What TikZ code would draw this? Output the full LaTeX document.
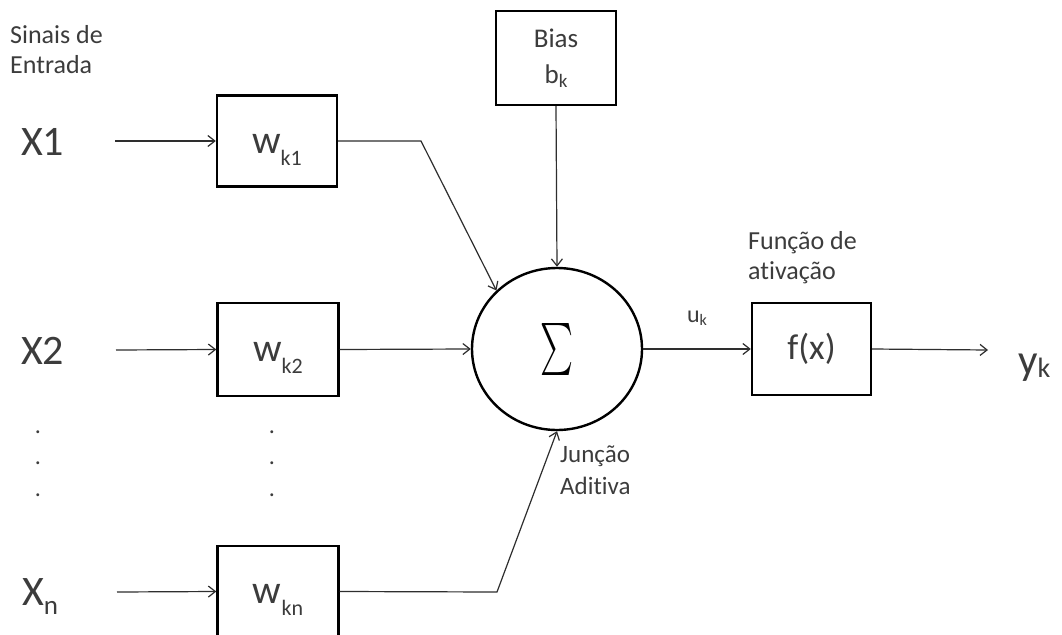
\documentclass[tikz,border=0pt]{standalone}
\usepackage{fontspec}
\setmainfont{Carlito}[Ligatures=NoCommon]
\usepackage{graphicx}
\usetikzlibrary{arrows.meta,shapes.geometric}
\definecolor{txt}{HTML}{3C3C3C}
\definecolor{lc}{HTML}{2E2E2E}
\newcommand{\fs}[1]{\fontsize{#1}{#1}\selectfont}
\newcommand{\lowsub}[3]{\raisebox{#1}{\fontsize{#2}{#2}\selectfont #3}}
\begin{document}
\begin{tikzpicture}[x=1pt,y=-1pt,
  box/.style={draw=black, line width=2.4pt, minimum width=120pt, minimum height=91pt, inner sep=0pt, text=txt},
  wt/.style={font=\fs{40}, text height=32pt, text depth=8pt},
  lbl/.style={text=txt, inner sep=0pt, align=left, font={\fontsize{26}{30}\selectfont}},
  xin/.style={text=txt, inner sep=0pt, font=\fs{42}, anchor=base west},
  dotn/.style={text=txt, inner sep=0pt, font=\fs{24}},
  conn/.style={draw=lc, line width=1.2pt, -{Straight Barb[length=7pt,width=11pt]}},
  plain/.style={draw=lc, line width=1.2pt}]
\fill[white] (0,0) rectangle (1062,634);
\useasboundingbox (0,0) rectangle (1062,634);

% labels
\node[lbl, anchor=north west] (sinais) at (10,25) {Sinais de\\Entrada};
\node[lbl, anchor=north west] (funcao) at (748,231) {Função de\\ativação};
\node[lbl, anchor=north west, font={\fontsize{25}{32}\selectfont}] (juncao) at (560,446) {Junção\\Aditiva};

% inputs
\node[xin] (x1) at (21,155) {X1};
\node[xin] (x2) at (21,364) {X2};
\node[xin] (xn) at (22,605) {X\lowsub{-9pt}{27}{n}};

% dots
\node[dotn] (d1) at (38,432) {.};
\node[dotn] (d2) at (38,463) {.};
\node[dotn] (d3) at (38,495) {.};
\node[dotn] (d4) at (272,432) {.};
\node[dotn] (d5) at (272,463) {.};
\node[dotn] (d6) at (272,495) {.};

% weights
\node[box, wt] (w1) at (277,141) {w\lowsub{-12pt}{22}{k1}};
\node[box, wt, minimum width=121pt, minimum height=93pt] (w2) at (278,349.5) {w\lowsub{-12pt}{22}{k2}};
\node[box, wt, minimum width=121pt] (wn) at (278,591.5) {w\lowsub{-12pt}{22}{kn}};

% bias
\node[box, minimum height=94pt, align=center, font={\fontsize{27}{36}\selectfont}] (bias) at (556,58) {Bias\\b\lowsub{-4pt}{19}{k}};

% summation
\node[draw=black, ellipse, line width=2.4pt, minimum width=170pt, minimum height=162pt, inner sep=0pt] (sum) at (557,349) {\resizebox*{33pt}{52pt}{$\sum$}};

% activation
\node[box, minimum width=119pt, minimum height=92pt, font=\fs{36}] (f) at (811.5,349) {f(x)};

% output label and uk
\node[text=txt, inner sep=0pt, font=\fs{43}, anchor=base west] (yk) at (1018,374) {y\lowsub{-3pt}{28}{k}};
\node[text=txt, inner sep=0pt, font=\fs{24}] (uk) at (697,318) {u\lowsub{-3pt}{16}{k}};

% coordinates
\coordinate (s1) at (115,141);
\coordinate (s2) at (116,350);
\coordinate (sn) at (117,592);
\coordinate (k1) at (421,141);
\coordinate (kn) at (497,592);
\coordinate (out) at (988,350);

% connectors
\draw[conn] (s1) -- (w1.west);
\draw[conn] (s2) -- (w2.west);
\draw[conn] (sn) -- (wn.west);
\draw[conn] (w1.east) -- (k1) -- (sum.136);
\draw[conn] (w2.east) -- (sum.west);
\draw[conn] (wn.east) -- (kn) -- (sum.south);
\draw[conn] (bias.south) -- (sum.north);
\draw[conn] (sum.east) -- (f.west);
\draw[conn] (f.east) -- (out);
\end{tikzpicture}
\end{document}
